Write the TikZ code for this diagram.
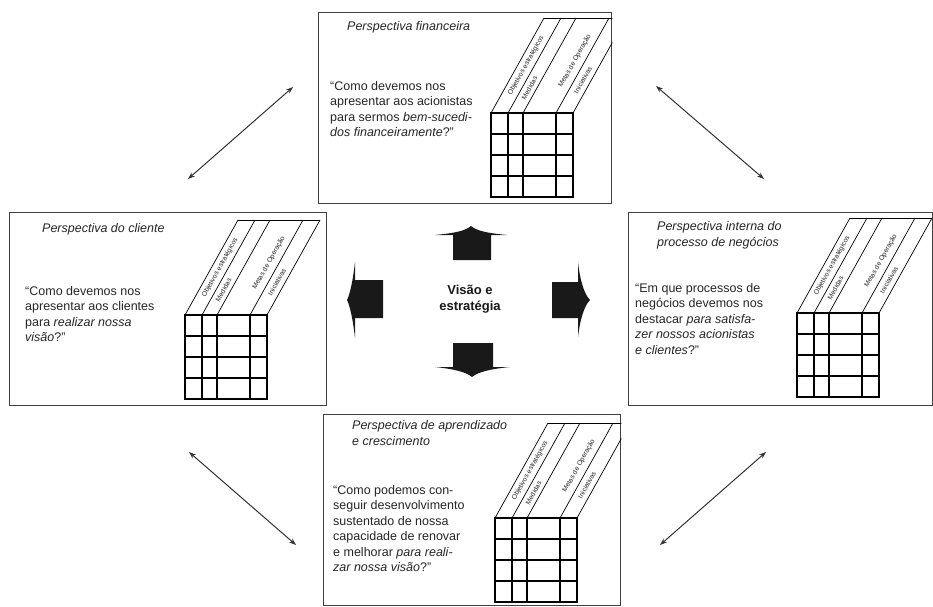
\documentclass[tikz,border=0pt]{standalone}
\usepackage{fontspec}
\setmainfont{Liberation Sans}
\usetikzlibrary{arrows.meta,calc}
\tikzset{
 persbox/.style={draw=black!75, line width=1.4pt, fill=white, anchor=north west, inner sep=0pt},
 gridline/.style={draw=black, line width=1.1pt},
 hdrline/.style={draw=black, line width=0.7pt},
 titletext/.style={font=\fontsize{12.5}{16.5}\selectfont\itshape, align=left, inner sep=0pt, anchor=north west, text=black!85},
 quotetext/.style={font=\fontsize{12.5}{15.5}\selectfont, align=left, inner sep=0pt, anchor=north west, text=black!85},
 hdrtext/.style={font=\fontsize{6.8}{7}\selectfont, rotate=60.84, inner sep=0pt, text=black!85},
 linkarrow/.style={{Stealth[length=7pt,width=5pt]}-{Stealth[length=7pt,width=5pt]}, line width=1pt, draw=black!80},
 bigarrow/.style={fill=black!90, draw=none},
 centertext/.style={font=\fontsize{13}{16}\selectfont\bfseries, align=center, text=black!90}
}
\newcommand\bscgrid[3]{%
 \begin{scope}
  \clip (#1.north west) rectangle (#1.south east);
  \begin{scope}[shift={(#2,#3)}]
   \draw[gridline] (0,0) rectangle (82,84);
   \foreach \c in {17,32,65} {\draw[gridline] (\c,0) -- (\c,84);}
   \foreach \r in {21,42,63} {\draw[gridline] (0,\r) -- (82,\r);}
   \foreach \c in {0,17,32,65,82} {\draw[hdrline] (\c,0) -- ++(53,-95);}
   \draw[hdrline] (53,-95) -- (135,-95);
   \node[hdrtext] (#1h1) at (35,-47.5) {Objetivos estratégicos};
   \node[hdrtext] (#1h2) at (38.5,-25) {Medidas};
   \node[hdrtext] (#1h3) at (84,-52) {Metas de Operação};
   \node[hdrtext] (#1h4) at (92,-33) {Iniciativas};
  \end{scope}
 \end{scope}}
\begin{document}
\begin{tikzpicture}[x=1pt,y=-1pt]
\useasboundingbox (0,0) rectangle (933,606);
\fill[white] (0,0) rectangle (933,606);

% boxes
\node[persbox, minimum width=293pt, minimum height=191pt] (fin) at (318,12) {};
\node[persbox, minimum width=317pt, minimum height=193pt] (cli) at (9,212) {};
\node[persbox, minimum width=304pt, minimum height=193pt] (int) at (628,212) {};
\node[persbox, minimum width=297pt, minimum height=191pt] (apr) at (323,414) {};

% grids
\bscgrid{fin}{491}{113}
\bscgrid{cli}{185}{315}
\bscgrid{int}{797}{313}
\bscgrid{apr}{495}{518}

% texts
\node[titletext] (fint) at (347,21) {Perspectiva financeira};
\node[quotetext] (finq) at (330,81) {“Como devemos nos\\apresentar aos acionistas\\para sermos {\itshape bem-sucedi-}\\{\itshape dos financeiramente}?”};

\node[titletext] (clit) at (42,223) {Perspectiva do cliente};
\node[quotetext] (cliq) at (25,286) {“Como devemos nos\\apresentar aos clientes\\para {\itshape realizar nossa}\\{\itshape visão}?”};

\node[titletext] (intt) at (657,221) {Perspectiva interna do\\processo de negócios};
\node[quotetext] (intq) at (635,283) {“Em que processos de\\negócios devemos nos\\destacar {\itshape para satisfa-}\\{\itshape zer nossos acionistas}\\{\itshape e clientes}?”};

\node[titletext] (aprt) at (352,420) {Perspectiva de aprendizado\\e crescimento};
\node[quotetext] (aprq) at (333,485) {“Como podemos con-\\seguir desenvolvimento\\sustentado de nossa\\capacidade de renovar\\e melhorar {\itshape para reali-}\\{\itshape zar nossa visão}?”};

% center
\node[centertext] (vis) at (470,299) {Visão e\\estratégia};

\fill[bigarrow] (453,260) -- (453,235) -- (435,235) .. controls (455,233) and (465,231) .. (471,226) .. controls (477,231) and (487,233) .. (507,235) -- (491,235) -- (491,260) -- cycle;
\fill[bigarrow] (453,343) -- (493,343) -- (493,367) -- (510,367) .. controls (490,369) and (478,372) .. (472,377) .. controls (466,372) and (454,369) .. (435,367) -- (453,367) -- cycle;
\fill[bigarrow] (383,280) -- (383,318) -- (355,318) -- (355,338) .. controls (353,320) and (350,306) .. (347,300) .. controls (350,294) and (353,280) .. (355,262) -- (355,280) -- cycle;
\fill[bigarrow] (552,282) -- (578,282) -- (578,262) .. controls (580,280) and (584,294) .. (590,300) .. controls (584,306) and (580,320) .. (578,337) -- (578,318) -- (552,318) -- cycle;

% link arrows
\coordinate (tl1) at (188,179); \coordinate (tl2) at (293,87);
\coordinate (tr1) at (656,86); \coordinate (tr2) at (764,179);
\coordinate (bl1) at (189,452); \coordinate (bl2) at (296,545);
\coordinate (br1) at (766,452); \coordinate (br2) at (660,545);
\draw[linkarrow] (tl1) -- (tl2);
\draw[linkarrow] (tr1) -- (tr2);
\draw[linkarrow] (bl1) -- (bl2);
\draw[linkarrow] (br1) -- (br2);
\end{tikzpicture}
\end{document}
